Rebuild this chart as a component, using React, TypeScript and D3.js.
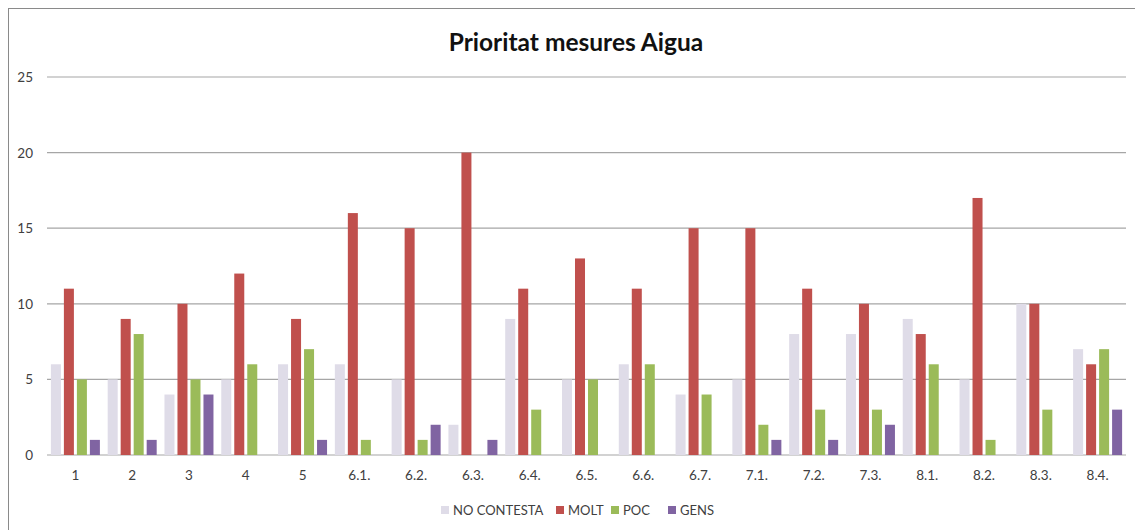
import React from "react";
import * as d3 from "d3";

const categories = ["1", "2", "3", "4", "5", "6.1.", "6.2.", "6.3.", "6.4.", "6.5.", "6.6.", "6.7.", "7.1.", "7.2.", "7.3.", "8.1.", "8.2.", "8.3.", "8.4."];
const seriesNames = ["NO CONTESTA", "MOLT", "POC", "GENS"];
const noContesta = [6, 5, 4, 5, 6, 6, 5, 2, 9, 5, 6, 4, 5, 8, 8, 9, 5, 10, 7];
const molt = [11, 9, 10, 12, 9, 16, 15, 20, 11, 13, 11, 15, 15, 11, 10, 8, 17, 10, 6];
const poc = [5, 8, 5, 6, 7, 1, 1, 0, 3, 5, 6, 4, 2, 3, 3, 6, 1, 3, 7];
const gens = [1, 1, 4, 0, 1, 0, 2, 1, 0, 0, 0, 0, 1, 1, 2, 0, 0, 0, 3];
const yTicks = [0, 5, 10, 15, 20, 25];
const colors = ["#dfdce8", "#c0504d", "#9bbb59", "#8064a2"];

const width = 1135;
const height = 530;
const marginLeft = 47;
const marginRight = 9;
const plotTop = 77;
const plotBottom = 455;
const font = "Lato, 'Open Sans', sans-serif";

export default function App() {
  const seriesValues = [noContesta, molt, poc, gens];

  const x = d3.scaleBand<string>().domain(categories).range([marginLeft, width - marginRight]);
  const y = d3.scaleLinear().domain([0, 25]).range([plotBottom, plotTop]);
  const inner = d3.scaleBand<string>().domain(seriesNames).range([-24.5, 24.5]).paddingInner(0.23);

  // legend positions (square left edge)
  const legendItems = [
    { name: seriesNames[0], x: 441 },
    { name: seriesNames[1], x: 556 },
    { name: seriesNames[2], x: 611 },
    { name: seriesNames[3], x: 668 },
  ];

  return (
    <svg width={width} height={height} style={{ position: "absolute", left: 0, top: 0 }}>
      <rect x={0} y={0} width={width} height={height} fill="#fff" />
      <rect x={8.5} y={8.5} width={width + 20} height={height + 20} fill="none" stroke="#8a8a8a" />
      <text x={576} y={51} textAnchor="middle" fontFamily={font} fontWeight="bold" fontSize={24.5} fill="#111">
        Prioritat mesures Aigua
      </text>

      {yTicks.map((t) => (
        <g key={t}>
          <line x1={marginLeft} x2={width - marginRight} y1={y(t)} y2={y(t)} stroke="#a6a6a6" strokeWidth={1.2} />
          <text x={33} y={y(t) + 5} textAnchor="end" fontFamily={font} fontSize={13.5} fill="#404040">
            {t}
          </text>
        </g>
      ))}

      {categories.map((c, i) => {
        const cx = (x(c) ?? 0) + x.bandwidth() / 2;
        return (
          <g key={c}>
            {seriesNames.map((s, k) => {
              const v = seriesValues[k][i];
              if (!v) return null;
              return (
                <rect
                  key={s}
                  x={cx + (inner(s) ?? 0)}
                  y={y(v)}
                  width={inner.bandwidth()}
                  height={y(0) - y(v)}
                  fill={colors[k]}
                />
              );
            })}
            <text x={cx} y={480} textAnchor="middle" fontFamily={font} fontSize={13.5} fill="#404040">
              {c}
            </text>
          </g>
        );
      })}

      {legendItems.map((d, k) => (
        <g key={d.name}>
          <rect x={d.x} y={506} width={8} height={8} fill={colors[k]} />
          <text x={d.x + 12} y={515} fontFamily={font} fontSize={13} fill="#404040">
            {d.name}
          </text>
        </g>
      ))}
    </svg>
  );
}
